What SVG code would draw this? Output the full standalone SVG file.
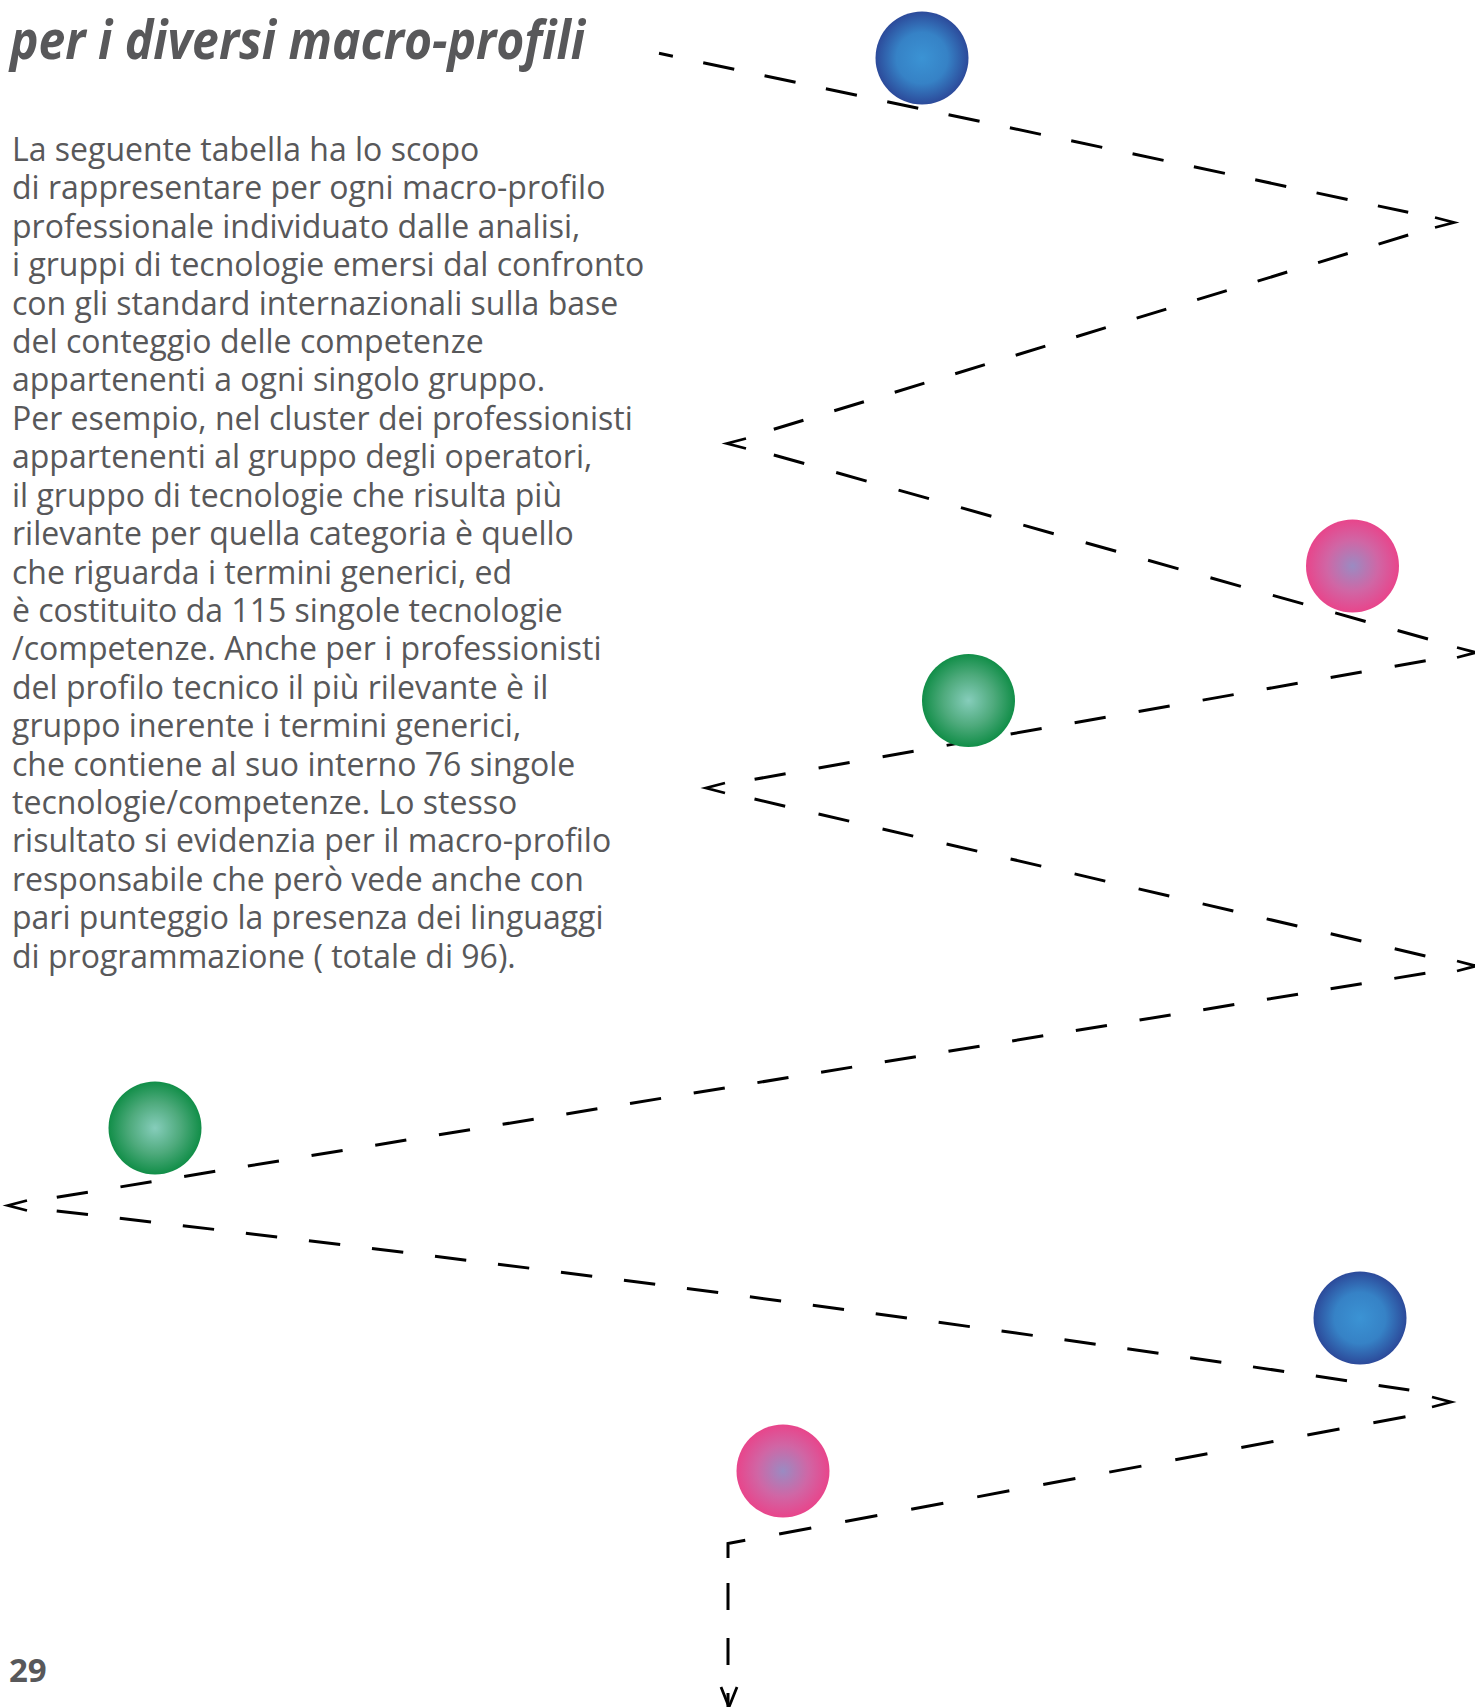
<svg xmlns="http://www.w3.org/2000/svg" xmlns:xlink="http://www.w3.org/1999/xlink" width="1475" height="1707" viewBox="0 0 1475 1707">
<style>
.body{font-family:"Open Sans","Noto Sans","Liberation Sans",sans-serif;font-size:32px;fill:#58585a}
.title{font-family:"Open Sans","Noto Sans","Liberation Sans",sans-serif;font-size:54px;font-weight:bold;font-style:italic;fill:#58585a}
.pnum{font-family:"Open Sans","Noto Sans","Liberation Sans",sans-serif;font-size:33px;font-weight:bold;fill:#58585a}
.dash{fill:none;stroke:#000;stroke-width:3}
.chev{fill:none;stroke:#000;stroke-width:2.8;stroke-linejoin:miter}
</style>
<defs>
<radialGradient id="gBlue" cx="0.5" cy="0.5" r="0.5">
<stop offset="0" stop-color="#3b93d4"/>
<stop offset="0.55" stop-color="#3682c6"/>
<stop offset="1" stop-color="#2c4a9a"/>
</radialGradient>
<radialGradient id="gPink" cx="0.5" cy="0.5" r="0.5">
<stop offset="0" stop-color="#9a8bc2"/>
<stop offset="0.55" stop-color="#d066a5"/>
<stop offset="1" stop-color="#e8458b"/>
</radialGradient>
<radialGradient id="gGreen" cx="0.5" cy="0.5" r="0.5">
<stop offset="0" stop-color="#86cdbb"/>
<stop offset="0.55" stop-color="#4eaa7c"/>
<stop offset="1" stop-color="#118e48"/>
</radialGradient>
<path id="chevH" class="chev" d="M-19,-5 L0,0 L-19,5"/>
<path id="chevV" class="chev" d="M-8,-20 L0,0 L8,-20"/>
</defs>
<rect width="1475" height="1707" fill="#fff"/>

<g id="title">
<text class="title" x="10" y="59" textLength="575" lengthAdjust="spacingAndGlyphs">per i diversi macro-profili</text>
</g>

<g id="body-text">
<text class="body" x="12" y="161"><tspan x="12" y="161">La seguente tabella ha lo scopo</tspan><tspan x="12" dy="38.41">di rappresentare per ogni macro-profilo</tspan><tspan x="12" dy="38.41">professionale individuato dalle analisi,</tspan><tspan x="12" dy="38.41">i gruppi di tecnologie emersi dal confronto</tspan><tspan x="12" dy="38.41">con gli standard internazionali sulla base</tspan><tspan x="12" dy="38.41">del conteggio delle competenze</tspan><tspan x="12" dy="38.41">appartenenti a ogni singolo gruppo.</tspan><tspan x="12" dy="38.41">Per esempio, nel cluster dei professionisti</tspan><tspan x="12" dy="38.41">appartenenti al gruppo degli operatori,</tspan><tspan x="12" dy="38.41">il gruppo di tecnologie che risulta più</tspan><tspan x="12" dy="38.41">rilevante per quella categoria è quello</tspan><tspan x="12" dy="38.41">che riguarda i termini generici, ed</tspan><tspan x="12" dy="38.41">è costituito da 115 singole tecnologie</tspan><tspan x="12" dy="38.41">/competenze. Anche per i professionisti</tspan><tspan x="12" dy="38.41">del profilo tecnico il più rilevante è il</tspan><tspan x="12" dy="38.41">gruppo inerente i termini generici,</tspan><tspan x="12" dy="38.41">che contiene al suo interno 76 singole</tspan><tspan x="12" dy="38.41">tecnologie/competenze. Lo stesso</tspan><tspan x="12" dy="38.41">risultato si evidenzia per il macro-profilo</tspan><tspan x="12" dy="38.41">responsabile che però vede anche con</tspan><tspan x="12" dy="38.41">pari punteggio la presenza dei linguaggi</tspan><tspan x="12" dy="38.41">di programmazione ( totale di 96).</tspan></text>
</g>

<g id="page-number">
<text class="pnum" x="9" y="1682">29</text>
</g>

<g id="connectors">
<path class="dash" d="M659,53.3 L1408.2,212.3" stroke-dasharray="31.7 31" stroke-dashoffset="17.5"/>
<use xlink:href="#chevH" href="#chevH" transform="translate(1454,222.5)"/>
<path class="dash" d="M1408.2,235 L773.8,429.3" stroke-dasharray="31 32.25"/>
<use xlink:href="#chevH" href="#chevH" transform="translate(727,443.5) rotate(180)"/>
<path class="dash" d="M773.8,455 L1428,639" stroke-dasharray="31.6 33.2"/>
<use xlink:href="#chevH" href="#chevH" transform="translate(1476,652.5)"/>
<path class="dash" d="M1425.7,660.7 L754.5,779.3" stroke-dasharray="31.5 33.5"/>
<use xlink:href="#chevH" href="#chevH" transform="translate(706,788) rotate(180)"/>
<path class="dash" d="M754.5,799 L1425.4,956" stroke-dasharray="31.5 34.25"/>
<use xlink:href="#chevH" href="#chevH" transform="translate(1476,966)"/>
<path class="dash" d="M1425.4,973.3 L56.7,1197.3" stroke-dasharray="31.5 33.04"/>
<use xlink:href="#chevH" href="#chevH" transform="translate(8,1205.5) rotate(180)"/>
<path class="dash" d="M56.7,1211 Q733,1288.6 1409.3,1390" stroke-dasharray="31.5 32"/>
<use xlink:href="#chevH" href="#chevH" transform="translate(1451,1402)"/>
<path class="dash" d="M1405.5,1416.7 L728,1543.5 L728,1558" stroke-dasharray="32.7 34.47"/>
<path class="dash" d="M728,1583 L728,1707" stroke-dasharray="27 28"/>
<use xlink:href="#chevV" href="#chevV" transform="translate(729,1707)"/>
</g>

<g id="node-blue-1"><circle cx="922" cy="58" r="46.5" fill="url(#gBlue)"/></g>
<g id="node-pink-1"><circle cx="1352.5" cy="566" r="46.5" fill="url(#gPink)"/></g>
<g id="node-green-1"><circle cx="968.5" cy="700.5" r="46.5" fill="url(#gGreen)"/></g>
<g id="node-green-2"><circle cx="155" cy="1128" r="46.5" fill="url(#gGreen)"/></g>
<g id="node-blue-2"><circle cx="1360" cy="1318" r="46.5" fill="url(#gBlue)"/></g>
<g id="node-pink-2"><circle cx="783" cy="1471" r="46.5" fill="url(#gPink)"/></g>
</svg>
